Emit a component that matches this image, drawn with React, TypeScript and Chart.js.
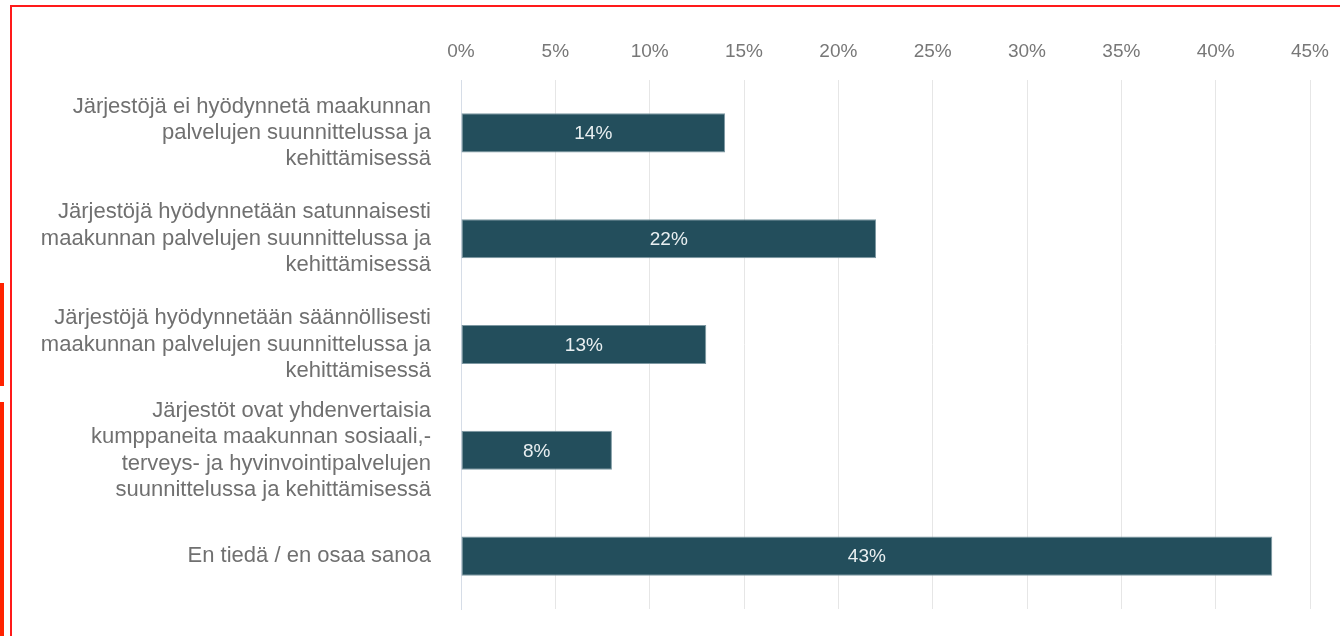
import React, { useEffect, useRef } from "react";
import { Chart, registerables } from "chart.js";

Chart.register(...registerables);

const categories: string[][] = [
  ["Järjestöjä ei hyödynnetä maakunnan", "palvelujen suunnittelussa ja", "kehittämisessä"],
  ["Järjestöjä hyödynnetään satunnaisesti", "maakunnan palvelujen suunnittelussa ja", "kehittämisessä"],
  ["Järjestöjä hyödynnetään säännöllisesti", "maakunnan palvelujen suunnittelussa ja", "kehittämisessä"],
  ["Järjestöt ovat yhdenvertaisia", "kumppaneita maakunnan sosiaali,-", "terveys- ja hyvinvointipalvelujen", "suunnittelussa ja kehittämisessä"],
  ["En tiedä / en osaa sanoa"],
];
const values: number[] = [14, 22, 13, 8, 43];
const valueLabels: string[] = ["14%", "22%", "13%", "8%", "43%"];
const tickValues: number[] = [0, 5, 10, 15, 20, 25, 30, 35, 40, 45];

const FONT = "'Liberation Sans', Arial, Helvetica, sans-serif";

const valueLabelPlugin = {
  id: "valueLabels",
  afterDatasetsDraw(chart: any) {
    const ctx = chart.ctx;
    const meta = chart.getDatasetMeta(0);
    ctx.save();
    ctx.font = `19px ${FONT}`;
    ctx.fillStyle = "#e9eff1";
    ctx.textAlign = "center";
    ctx.textBaseline = "middle";
    meta.data.forEach((bar: any, i: number) => {
      const x = (bar.x + bar.base) / 2;
      ctx.fillText(valueLabels[i], x, bar.y + 1);
    });
    ctx.restore();
  },
};

export default function App() {
  const ref = useRef<HTMLCanvasElement | null>(null);
  useEffect(() => {
    if (!ref.current) return;
    const chart = new Chart(ref.current, {
      type: "bar",
      data: {
        labels: categories,
        datasets: [
          {
            data: values,
            backgroundColor: "#234e5c",
            borderColor: "#7d98a2",
            borderWidth: 1,
            borderSkipped: false,
            barPercentage: 0.37,
            categoryPercentage: 1,
          },
        ],
      },
      options: {
        indexAxis: "y",
        animation: false,
        responsive: false,
        maintainAspectRatio: false,
        layout: { padding: { left: 0, top: 0, right: 22, bottom: 19 } },
        plugins: { legend: { display: false }, tooltip: { enabled: false } },
        scales: {
          x: {
            position: "top",
            min: 0,
            max: 45,
            afterBuildTicks: (scale: any) => {
              scale.ticks = tickValues.map((v) => ({ value: v }));
            },
            afterFit: (scale: any) => {
              scale.height = 72;
              scale.paddingLeft = 0;
              scale.paddingRight = 0;
            },
            ticks: {
              stepSize: 5,
              padding: 17,
              autoSkip: false,
              maxRotation: 0,
              color: "#777777",
              font: { family: FONT, size: 19 },
              callback: (v: any) => `${v}%`,
            },
            grid: { color: "#e6e6e6", drawTicks: false, lineWidth: 1 },
            border: { display: false },
          },
          y: {
            afterFit: (scale: any) => {
              scale.width = 453;
              scale.paddingTop = 0;
              scale.paddingBottom = 0;
            },
            ticks: {
              padding: 30,
              autoSkip: false,
              color: "#707070",
              font: { family: FONT, size: 22, lineHeight: 1.2 },
            },
            grid: { display: false, drawTicks: false },
            border: { display: true, color: "#d6dde7", width: 1 },
          },
        },
      },
      plugins: [valueLabelPlugin],
    } as any);
    return () => chart.destroy();
  }, []);

  return (
    <div>
      <div style={{ width: 1324, height: 620, position: "relative" }}>
        <canvas ref={ref} width={1324} height={620} style={{ width: 1324, height: 620, display: "block" }} />
      </div>
      <div style={{ position: "fixed", left: 11, top: 5, width: 1329, height: 2, background: "#ff1a1a" }} />
      <div style={{ position: "fixed", left: 10, top: 5, width: 2, height: 631, background: "#ff1a1a" }} />
      <div style={{ position: "fixed", left: 0, top: 283, width: 4, height: 103, background: "#ff2200" }} />
      <div style={{ position: "fixed", left: 0, top: 402, width: 4, height: 234, background: "#ff2200" }} />
    </div>
  );
}
